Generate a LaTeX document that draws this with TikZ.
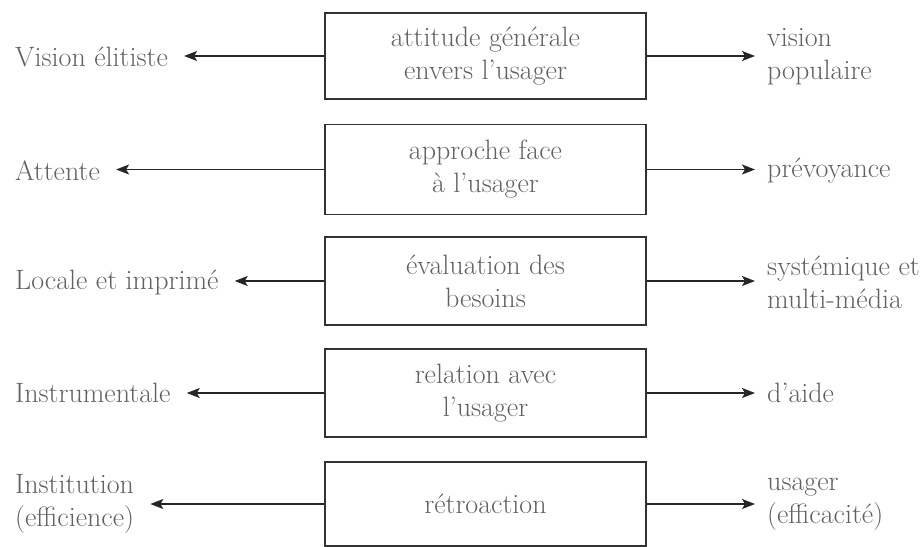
\documentclass[tikz,border=0pt]{standalone}
\usetikzlibrary{arrows.meta}
\begin{document}
\begin{tikzpicture}[x=1pt,y=-1pt,
  every node/.style={font=\fontsize{28}{33}\selectfont, text=black!62},
  box/.style={draw=black!80, line width=1.4pt, minimum width=321pt, align=center, inner sep=0pt},
  lbl/.style={align=left, inner sep=0pt},
  conn/.style={draw=black!85, line width=1.5pt, -{Stealth[length=13pt,width=10pt,inset=3pt]}},
]
\useasboundingbox (0,0) rectangle (923,546);

% boxes
\node[box, minimum height=86pt] (b1) at (485.5,56) {attitude générale\\envers l'usager};
\node[box, minimum height=90pt] (b2) at (485.5,169.5) {approche face\\à l'usager};
\node[box, minimum height=88pt] (b3) at (485.5,281) {évaluation des\\besoins};
\node[box, minimum height=88pt] (b4) at (485.5,393) {relation avec\\l'usager};
\node[box, minimum height=84pt] (b5) at (485.5,504) {rétroaction};

% left labels
\node[lbl, anchor=west] (l1) at (15,57) {Vision élitiste};
\node[lbl, anchor=west] (l2) at (15,171) {Attente};
\node[lbl, anchor=west] (l3) at (15,282) {Locale et imprimé};
\node[lbl, anchor=west] (l4) at (15,393) {Instrumentale};
\node[lbl, anchor=west] (l5) at (15,504) {Institution\\(efficience)};

% right labels
\node[lbl, anchor=west] (r1) at (767,57) {vision\\populaire};
\node[lbl, anchor=west] (r2) at (767,171) {prévoyance};
\node[lbl, anchor=west] (r3) at (767,282) {systémique et\\multi-média};
\node[lbl, anchor=west] (r4) at (767,393) {d'aide};
\node[lbl, anchor=west] (r5) at (767,504) {usager\\(efficacité)};

% connectors
\foreach \i in {1,...,5}{
  \draw[conn, shorten >=16pt] (b\i.west) -- (b\i.west -| l\i.east);
  \draw[conn, shorten >=12pt] (b\i.east) -- (b\i.east -| r\i.west);
}
\end{tikzpicture}
\end{document}
